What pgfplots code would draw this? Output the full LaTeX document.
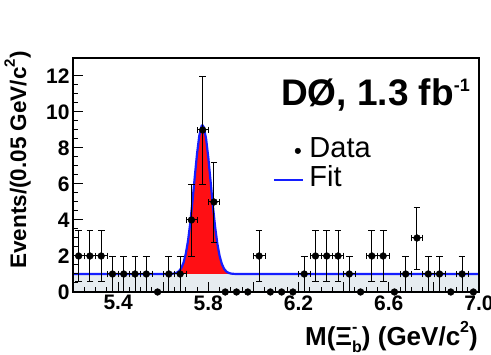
\documentclass[border=0pt]{standalone}
\usepackage{fontspec}
\setmainfont{Liberation Sans}
\usepackage{pgfplots}
\usepackage{pgfplotstable}
\pgfplotsset{compat=1.18}

\definecolor{bandgrey}{RGB}{230,236,240}
\definecolor{fitblue}{RGB}{20,30,255}
\definecolor{sigred}{RGB}{255,15,20}

\pgfplotstableread{
x y ex ey
5.225 2 0.025 1.414
5.275 2 0.025 1.414
5.325 2 0.025 1.414
5.375 1 0.025 1
5.425 1 0.025 1
5.475 1 0.025 1
5.525 1 0.025 1
5.625 1 0.025 1
5.675 1 0.025 1
5.725 4 0.025 2
5.775 9 0.025 3
5.825 5 0.025 2.236
6.025 2 0.025 1.414
6.225 1 0.025 1
6.275 2 0.025 1.414
6.325 2 0.025 1.414
6.375 2 0.025 1.414
6.425 1 0.025 1
6.525 2 0.025 1.414
6.575 2 0.025 1.414
6.675 1 0.025 1
6.725 3 0.025 1.732
6.775 1 0.025 1
6.825 1 0.025 1
6.925 1 0.025 1
}\datatab

\pgfplotstableread{
x y
5.575 0
5.875 0
5.925 0
5.975 0
6.075 0
6.125 0
6.175 0
6.475 0
6.625 0
6.875 0
6.975 0
}\zerotab

\pgfplotstableread{
x y
5.20 1
5.60 1.0001
5.62 1.0014
5.64 1.0117
5.65 1.030
5.66 1.0717
5.67 1.159
5.68 1.328
5.69 1.628
5.70 2.118
5.71 2.850
5.72 3.847
5.73 5.073
5.74 6.416
5.75 7.693
5.76 8.689
5.77 9.212
5.774 9.26
5.78 9.152
5.79 8.522
5.80 7.453
5.81 6.145
5.82 4.814
5.83 3.628
5.84 2.683
5.85 2.002
5.86 1.554
5.87 1.285
5.88 1.136
5.89 1.061
5.90 1.025
5.91 1.0096
5.92 1.0034
5.94 1.0004
7.00 1
}\fittab

\pgfplotstableread{
x y
5.60 1.0001
5.62 1.0014
5.64 1.0117
5.65 1.030
5.66 1.0717
5.67 1.159
5.68 1.328
5.69 1.628
5.70 2.118
5.71 2.850
5.72 3.847
5.73 5.073
5.74 6.416
5.75 7.693
5.76 8.689
5.77 9.212
5.774 9.26
5.78 9.152
5.79 8.522
5.80 7.453
5.81 6.145
5.82 4.814
5.83 3.628
5.84 2.683
5.85 2.002
5.86 1.554
5.87 1.285
5.88 1.136
5.89 1.061
5.90 1.025
5.91 1.0096
5.92 1.0034
5.94 1.0004
}\sigtab

\begin{document}
\begin{tikzpicture}
\path[use as bounding box] (-73pt,-63pt) rectangle (418pt,292pt);
\begin{axis}[
  at={(0pt,0pt)}, anchor=south west,
  scale only axis, width=406pt, height=234pt,
  xmin=5.2, xmax=7.0, ymin=0, ymax=13,
  axis line style={line width=1.5pt},
  xtick={5.2,5.4,5.6,5.8,6.0,6.2,6.4,6.6,6.8,7.0},
  xticklabels={,5.4,,5.8,,6.2,,6.6,,7.0},
  ytick={0,2,4,6,8,10,12},
  minor x tick num=3, minor y tick num=3,
  tick align=inside, xtick pos=bottom, ytick pos=left,
  major tick length=10pt, minor tick length=5pt,
  every tick/.style={black, line width=1pt},
  ticklabel style={font=\bfseries\fontsize{21}{21}\selectfont},
  /pgf/number format/assume math mode=true,
  clip=false,
  axis on top,
  xlabel={M(Ξ\makebox[0pt][l]{\raisebox{0.5em}{\fontsize{16}{16}\selectfont -}}\raisebox{-0.25em}{\fontsize{16}{16}\selectfont b}) (GeV/c\raisebox{0.5em}{\fontsize{16}{16}\selectfont 2})},
  xlabel style={font=\bfseries\fontsize{26}{26}\selectfont, at={(axis description cs:1,0)}, anchor=base east, yshift=-54pt, xshift=-1pt, inner sep=0pt},
  ylabel={Events/(0.05 GeV/c\raisebox{0.5em}{\fontsize{15}{15}\selectfont 2})},
  ylabel style={font=\bfseries\fontsize{22.5}{22.5}\selectfont, at={(axis description cs:-0.1367,0.564)}, anchor=center, inner sep=0pt},
  legend style={at={(rel axis cs:0.4926,0.541)}, anchor=west, draw=none, fill=none,
    font=\fontsize{29}{29}\selectfont, column sep=6pt, row sep=0pt, inner sep=0pt,
    nodes={inner sep=0pt, text height=21pt, text depth=8pt}},
  legend cell align=left,
]
\addplot[draw=none, fill=sigred, forget plot] table[x=x,y=y] {\sigtab} \closedcycle;
\addplot[draw=none, fill=bandgrey, forget plot] coordinates {(5.2,1) (7.0,1)} \closedcycle;
\addplot[fitblue, line width=2.2pt, forget plot] table[x=x,y=y] {\fittab};
\addplot[only marks, mark=*, mark size=3.4pt, black, forget plot,
  error bars/.cd, x dir=both, x explicit, y dir=both, y explicit,
  error bar style={line width=1pt, black}]
  table[x=x,y=y,x error=ex,y error=ey] {\datatab};
\addplot[only marks, mark=*, mark size=3.4pt, black, forget plot] table[x=x,y=y] {\zerotab};
\addlegendimage{legend image code/.code={\path[draw=none, fill=none] (0pt,-1pt) rectangle (29pt,1pt); \fill[black] (24pt,0pt) circle (2.8pt);}}
\addlegendentry{Data}
\addlegendimage{legend image code/.code={\draw[fitblue, line width=1.3pt] (0pt,0pt) -- (29pt,0pt);}}
\addlegendentry{Fit}
\node[anchor=base east, font=\bfseries\fontsize{37}{37}\selectfont, inner sep=0pt] at (rel axis cs:0.978,0.799) {DØ, 1.3 fb\raisebox{14pt}{\fontsize{18}{18}\selectfont -1}};
\end{axis}
\end{tikzpicture}
\end{document}
